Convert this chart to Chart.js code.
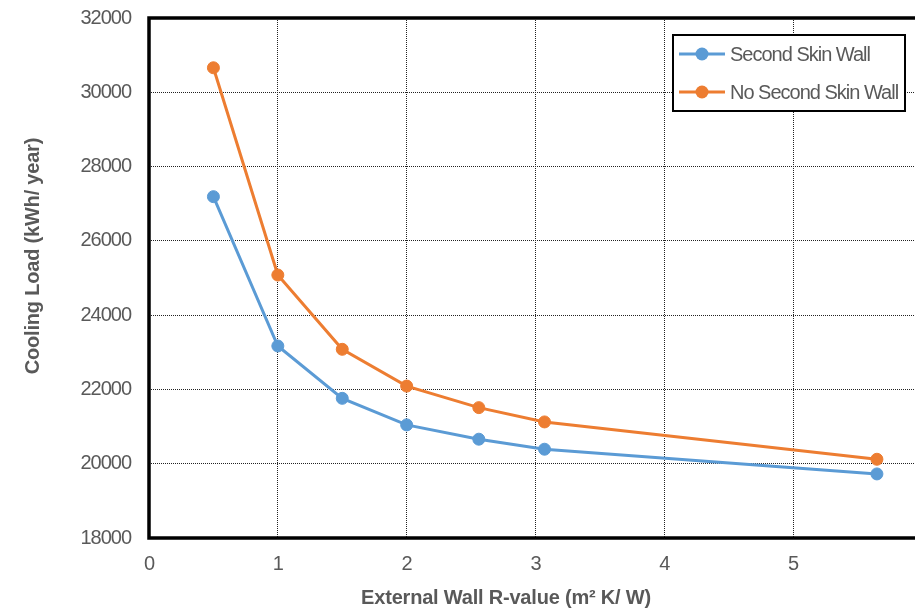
<!DOCTYPE html>
<html>
<head>
<meta charset="utf-8">
<script src="https://cdn.jsdelivr.net/npm/chart.js@4.4.1/dist/chart.umd.min.js"></script>
<style>
  html, body { margin: 0; padding: 0; background: #fff; overflow: hidden; }
  #wrap { width: 915px; height: 616px; overflow: hidden; position: relative; }
  canvas { display: block; }
</style>
</head>
<body>
<div id="wrap"><canvas id="c" width="940" height="616"></canvas></div>
<script>
// ---- data ----
const rValues = [0.5, 1.0, 1.5, 2.0, 2.56, 3.07, 5.65];
const secondSkinWall = [27190, 23170, 21760, 21045, 20660, 20390, 19725];
const noSecondSkinWall = [30660, 25080, 23080, 22090, 21510, 21125, 20120];
const seriesLabels = ['Second Skin Wall', 'No Second Skin Wall'];
const xTitle = 'External Wall R-value (m² K/ W)';
const yTitle = 'Cooling Load (kWh/ year)';
const xTicks = [0, 1, 2, 3, 4, 5, 6];
const yTicks = [18000, 20000, 22000, 24000, 26000, 28000, 30000, 32000];

const BLUE = '#5B9BD5';
const ORANGE = '#ED7D31';
const GREY = '#595959';

function pts(ys) { return rValues.map((x, i) => ({ x: x, y: ys[i] })); }

const decor = {
  id: 'decor',
  beforeDraw(chart) {
    chart.ctx.letterSpacing = '-1px';
  },
  afterDraw(chart) {
    const ctx = chart.ctx;
    const a = chart.chartArea;
    ctx.save();
    // frame
    ctx.letterSpacing = '0px';
    ctx.strokeStyle = '#000';
    ctx.lineWidth = 3.5;
    ctx.strokeRect(a.left, a.top, a.right - a.left, a.bottom - a.top);

    // axis titles
    ctx.fillStyle = GREY;
    ctx.font = 'bold 20px "Liberation Sans", Arial, sans-serif';
    ctx.textAlign = 'center';
    ctx.textBaseline = 'middle';
    ctx.letterSpacing = '-0.2px';
    ctx.fillText(xTitle, 506, 598);
    ctx.save();
    ctx.translate(33, 256);
    ctx.rotate(-Math.PI / 2);
    ctx.fillText(yTitle, 0, 0);
    ctx.restore();

    // legend
    const bx = 673, by = 35, bw = 232, bh = 76;
    ctx.fillStyle = '#fff';
    ctx.fillRect(bx, by, bw, bh);
    ctx.strokeStyle = '#000';
    ctx.lineWidth = 2;
    ctx.strokeRect(bx, by, bw, bh);
    const items = chart.data.datasets.map((d, i) => ({ label: d.label, color: d.borderColor, y: [54, 92][i] }));
    items.forEach(it => {
      ctx.strokeStyle = it.color;
      ctx.lineWidth = 3;
      ctx.beginPath();
      ctx.moveTo(679, it.y);
      ctx.lineTo(725, it.y);
      ctx.stroke();
      ctx.fillStyle = it.color;
      ctx.beginPath();
      ctx.arc(702, it.y, 6.5, 0, Math.PI * 2);
      ctx.fill();
      ctx.fillStyle = GREY;
      ctx.font = '20px "Liberation Sans", Arial, sans-serif';
      ctx.letterSpacing = '-1px';
      ctx.textAlign = 'left';
      ctx.textBaseline = 'middle';
      ctx.fillText(it.label, 730, it.y + 1);
    });
    ctx.restore();
  }
};

new Chart(document.getElementById('c'), {
  type: 'line',
  data: {
    datasets: [
      {
        label: seriesLabels[0],
        data: pts(secondSkinWall),
        borderColor: BLUE,
        backgroundColor: BLUE,
        borderWidth: 3,
        pointRadius: 6,
        pointBorderWidth: 1,
        pointBackgroundColor: BLUE,
        pointBorderColor: BLUE,
        tension: 0
      },
      {
        label: seriesLabels[1],
        data: pts(noSecondSkinWall),
        borderColor: ORANGE,
        backgroundColor: ORANGE,
        borderWidth: 3,
        pointRadius: 6,
        pointBorderWidth: 1,
        pointBackgroundColor: ORANGE,
        pointBorderColor: ORANGE,
        tension: 0
      }
    ]
  },
  options: {
    responsive: false,
    animation: false,
    devicePixelRatio: 1,
    layout: { padding: { left: 0, right: 18, top: 18, bottom: 0 } },
    plugins: { legend: { display: false }, tooltip: { enabled: false }, title: { display: false } },
    scales: {
      x: {
        type: 'linear',
        min: xTicks[0],
        max: xTicks[xTicks.length - 1],
        afterBuildTicks(scale) { scale.ticks = xTicks.map(v => ({ value: v })); },
        afterFit(scale) { scale.height = 78; scale.paddingLeft = 0; scale.paddingRight = 0; },
        ticks: {
          padding: 14,
          color: GREY,
          font: { family: '"Liberation Sans", Arial, sans-serif', size: 20 },
          maxRotation: 0,
          autoSkip: false
        },
        grid: { color: '#222', lineWidth: 1, drawTicks: false },
        border: { display: false, dash: [1, 1] }
      },
      y: {
        type: 'linear',
        min: yTicks[0],
        max: yTicks[yTicks.length - 1],
        afterBuildTicks(scale) { scale.ticks = yTicks.map(v => ({ value: v })); },
        afterFit(scale) { scale.width = 149; scale.paddingTop = 0; scale.paddingBottom = 0; },
        ticks: {
          padding: 18,
          color: GREY,
          font: { family: '"Liberation Sans", Arial, sans-serif', size: 20 },
          callback: v => String(v)
        },
        grid: { color: '#222', lineWidth: 1, drawTicks: false },
        border: { display: false, dash: [1, 1] }
      }
    }
  },
  plugins: [decor]
});
</script>
</body>
</html>
